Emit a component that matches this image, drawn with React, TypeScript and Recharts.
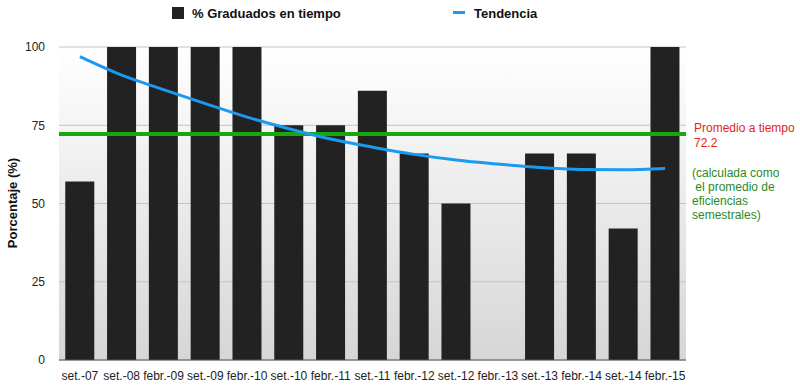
import React from "react";
import {
  ComposedChart,
  Bar,
  Line,
  XAxis,
  YAxis,
  CartesianGrid,
  ReferenceLine,
  Customized,
} from "recharts";

const categories = [
  "set.-07", "set.-08", "febr.-09", "set.-09", "febr.-10", "set.-10", "febr.-11", "set.-11",
  "febr.-12", "set.-12", "febr.-13", "set.-13", "febr.-14", "set.-14", "febr.-15",
];
const graduados = [57, 100, 100, 100, 100, 75, 75, 86, 66, 50, 0, 66, 66, 42, 100];
const tendencia = [96.9, 91.0, 86.4, 81.9, 77.6, 73.9, 70.6, 68.0, 65.7, 63.9, 62.6, 61.5, 60.9, 60.8, 61.2];
const yTicks = [0, 25, 50, 75, 100];
const promedio = 72.2;

const data = categories.map((c, i) => ({ cat: c, grad: graduados[i], tend: tendencia[i] }));

const FONT = "'Liberation Sans', Arial, Helvetica, sans-serif";

const Overlay = () => (
  <g style={{ fontFamily: FONT }}>
    <rect x={172} y={7} width={12} height={12} fill="#222" />
    <text x={192} y={18} fontSize={13} fontWeight="bold" fill="#111">% Graduados en tiempo</text>
    <rect x={453} y={11} width={12} height={3} fill="#1a9bf0" />
    <text x={474} y={18} fontSize={13} fontWeight="bold" fill="#111">Tendencia</text>
    <text x={694} y={132} fontSize={12} fill="#e0241b">Promedio a tiempo</text>
    <text x={694} y={147} fontSize={12} fill="#e0241b">72.2</text>
    <text x={692} y={177} fontSize={12} fill="#2a8a1f">(calculada como</text>
    <text x={692} y={191} fontSize={12} fill="#2a8a1f">{"\u00a0el promedio de"}</text>
    <text x={692} y={205} fontSize={12} fill="#2a8a1f">eficiencias</text>
    <text x={692} y={219} fontSize={12} fill="#2a8a1f">semestrales)</text>
    <text
      x={17}
      y={203}
      fontSize={13}
      fontWeight="bold"
      fill="#111"
      textAnchor="middle"
      transform="rotate(-90 17 203)"
    >
      Porcentaje (%)
    </text>
  </g>
);

export default function App() {
  return (
    <div style={{ position: "absolute", left: 0, top: 0, width: 800, height: 389, background: "#fff" }}>
      <ComposedChart
        width={800}
        height={389}
        data={data}
        margin={{ top: 47, right: 114, bottom: 0, left: 0 }}
        barCategoryGap="15%"
        style={{ fontFamily: FONT }}
      >
        <defs>
          <linearGradient id="bgGrad" x1="0" y1="0" x2="0" y2="1">
            <stop offset="0%" stopColor="#ffffff" />
            <stop offset="100%" stopColor="#d6d6d6" />
          </linearGradient>
        </defs>
        <CartesianGrid
          vertical={false}
          stroke="#c4c4c4"
          fill="url(#bgGrad)"
          fillOpacity={1}
        />
        <XAxis
          dataKey="cat"
          interval={0}
          height={29}
          tickLine={false}
          tickSize={0}
          tickMargin={11}
          axisLine={{ stroke: "#555", strokeWidth: 1 }}
          tick={{ fontSize: 12, fill: "#222" }}
        />
        <YAxis
          width={59}
          domain={[0, 100]}
          ticks={yTicks}
          axisLine={false}
          tickLine={false}
          tickSize={0}
          tickMargin={14}
          tick={{ fontSize: 12, fill: "#222" }}
        />
        <Bar dataKey="grad" fill="#222222" isAnimationActive={false} />
        <ReferenceLine y={promedio} stroke="#16a80c" strokeWidth={4} />
        <Line
          type="monotone"
          dataKey="tend"
          stroke="#1a9bf0"
          strokeWidth={3}
          dot={false}
          activeDot={false}
          isAnimationActive={false}
        />
        <Customized component={Overlay} />
      </ComposedChart>
    </div>
  );
}
